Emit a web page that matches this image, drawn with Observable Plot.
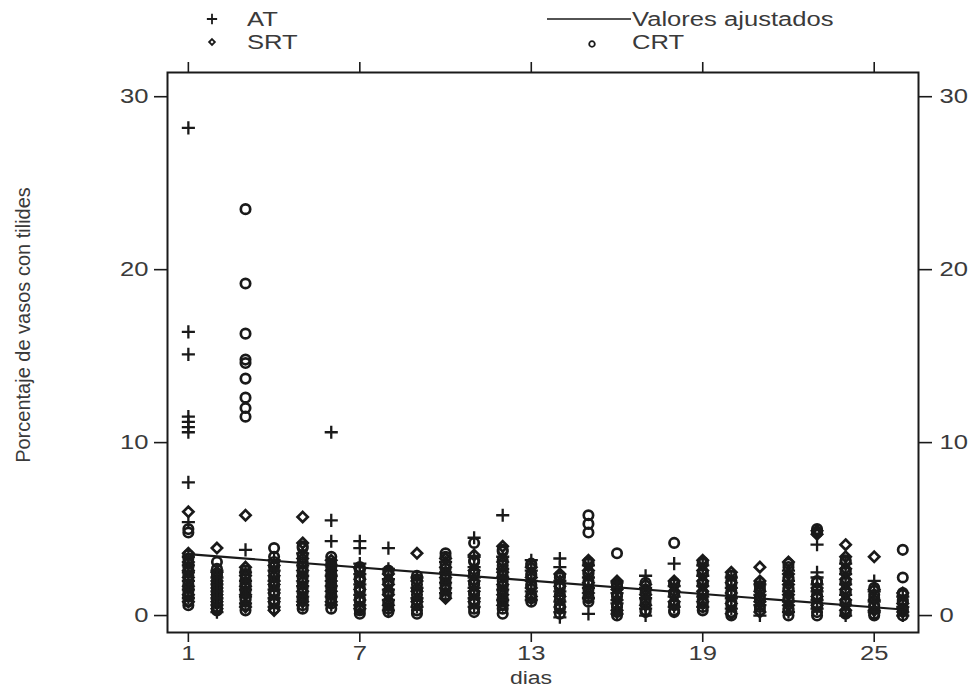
<!DOCTYPE html>
<html><head><meta charset="utf-8">
<script src="https://cdn.jsdelivr.net/npm/d3@7"></script>
<script src="https://cdn.jsdelivr.net/npm/@observablehq/plot@0.6"></script>
<style>
body{margin:0;background:#fff}
svg{display:block}
</style>
</head><body><div id="chart"></div>
<script>
const days = [1,2,3,4,5,6,7,8,9,10,11,12,13,14,15,16,17,18,19,20,21,22,23,24,25,26];

const atValues = [
  [28.2,16.4,15.1,11.5,11.2,10.9,10.6,7.7,5.4,3.4,2.9,2.5,2.0,1.5,1.0],
  [2.6,2.2,1.8,1.4,1.0,0.6,0.2],
  [3.8,2.5,2.0,1.5,1.1,0.7],
  [3.2,2.6,2.0,1.5,1.0,0.5],
  [3.6,2.9,2.3,1.7,1.1,0.6],
  [10.6,5.5,4.3,2.9,2.3,1.7,1.1,0.6],
  [4.3,3.9,3.0,2.4,1.8,1.2,0.6],
  [3.9,2.7,2.1,1.5,0.9,0.3],
  [2.2,1.6,1.0,0.5],
  [3.1,2.5,1.9,1.3],
  [4.5,3.4,2.8,2.2,1.6,1.0,0.5],
  [5.8,3.4,2.7,2.2,1.5,0.9],
  [3.2,2.6,2.0,1.4,0.9],
  [3.3,2.8,2.0,1.4,0.8,0.2,-0.1],
  [2.9,2.2,1.6,1.0,0.1],
  [1.9,1.3,0.7,0.1],
  [2.3,1.6,1.0,0.4,0.0],
  [3.0,1.7,1.1,0.5],
  [2.9,2.3,1.7,1.1,0.5],
  [2.2,1.6,1.0,0.4],
  [1.8,1.2,0.6,0.0],
  [2.6,2.0,1.4,0.8,0.2],
  [4.1,2.5,2.2,1.8,1.4,0.9,0.4],
  [3.0,2.4,1.8,1.2,0.6,0.0],
  [2.0,1.4,0.8,0.2],
  [1.1,0.5,0.0]
];

const srtValues = [
  [6.0,3.6,3.1,2.6,2.2,1.7,1.2,0.8],
  [3.9,2.5,2.0,1.6,1.2,0.8,0.4],
  [5.8,2.8,2.3,1.7,1.2,0.5],
  [2.9,2.3,1.8,1.3,0.8,0.3],
  [5.7,4.2,3.3,2.6,2.0,1.4,0.8],
  [3.2,2.6,2.0,1.4,0.8],
  [2.7,2.1,1.5,0.9,0.4],
  [2.4,1.8,1.2,0.6],
  [3.6,2.0,1.4,0.8],
  [3.3,2.8,2.2,1.6,1.0],
  [3.5,2.6,2.0,1.4,0.8],
  [4.0,3.1,2.5,1.8,1.2,0.6],
  [2.8,2.2,1.6,1.1],
  [2.4,1.7,1.1,0.5],
  [3.2,2.6,1.9,1.3],
  [2.0,1.5,0.9,0.3],
  [1.8,1.2,0.6],
  [2.0,1.4,0.8],
  [3.2,2.6,2.0,1.4,0.8],
  [2.5,1.9,1.3,0.7,0.1],
  [2.8,2.0,1.4,0.8,0.2],
  [3.1,2.4,1.8,1.2,0.6],
  [4.9,4.7,1.6,1.1,0.6],
  [4.1,3.4,2.7,2.1,1.5,0.9,0.3],
  [3.4,1.5,0.9,0.3],
  [1.3,0.7,0.2]
];

const crtValues = [
  [5.0,4.8,3.5,3.3,3.0,2.8,2.5,2.3,2.0,1.8,1.6,1.4,1.2,1.1,0.8,0.6],
  [3.1,2.7,2.4,2.3,2.0,1.9,1.7,1.5,1.3,1.1,0.9,0.7,0.5,0.3],
  [23.5,19.2,16.3,14.8,14.6,13.7,12.6,12.0,11.5,2.6,2.4,2.1,1.9,1.8,1.6,1.4,1.0,0.9,0.6,0.3],
  [3.9,3.4,3.1,2.8,2.5,2.2,2.0,1.7,1.4,1.2,0.9,0.7,0.4],
  [3.9,4.0,3.5,3.1,2.8,2.5,2.2,1.9,1.6,1.3,1.0,0.9,0.6,0.4],
  [3.4,3.0,2.8,2.4,2.2,1.8,1.6,1.2,1.0,0.7,0.4],
  [2.8,2.6,2.2,2.0,1.6,1.4,1.0,0.8,0.5,0.3,0.1],
  [2.6,2.5,2.0,1.9,1.4,1.3,0.8,0.7,0.4,0.2],
  [2.3,2.1,1.8,1.5,1.2,0.9,0.6,0.3,0.1],
  [3.6,3.4,3.0,2.7,2.4,2.1,1.8,1.5,1.2,1.1],
  [4.2,3.2,3.1,2.5,2.4,1.9,1.8,1.3,1.2,0.9,0.7,0.4,0.2],
  [3.8,3.7,3.2,2.9,2.6,2.3,2.0,1.7,1.4,1.0,0.8,0.4,0.1],
  [3.0,2.9,2.4,2.3,1.8,1.7,1.2,1.0,0.8],
  [2.3,2.2,1.8,1.6,1.2,0.9,0.6,0.4,0.1],
  [5.8,5.3,4.8,3.1,3.0,2.5,2.4,2.0,1.8,1.5,1.1,1.0,0.8],
  [3.6,1.8,1.7,1.2,1.1,0.6,0.5,0.2,0.0],
  [1.9,1.5,1.3,0.9,0.7,0.3,0.2],
  [4.2,1.9,1.8,1.3,1.2,0.7,0.6,0.3,0.2],
  [3.1,3.0,2.5,2.4,1.9,1.8,1.3,1.2,0.9,0.7,0.5,0.3],
  [2.3,2.0,1.8,1.4,1.2,0.8,0.6,0.2,0.0],
  [1.9,1.7,1.5,1.1,0.9,0.5,0.3],
  [3.0,2.8,2.2,2.1,1.6,1.5,1.0,0.9,0.4,0.3,0.0],
  [5.0,4.8,2.0,1.9,1.5,1.2,1.0,0.7,0.5,0.2,0.0],
  [3.2,3.1,2.6,2.5,2.0,1.9,1.4,1.3,0.8,0.7,0.2,0.1],
  [1.6,1.2,1.0,0.6,0.5,0.1,0.0],
  [3.8,2.2,1.3,1.2,0.9,0.8,0.4,0.3,0.0]
];

const fitDays = [1, 26];
const fitValues = [3.55, 0.35];

const xTicks = [1, 7, 13, 19, 25];
const yTicks = [0, 10, 20, 30];
const xLabel = "dias";
const yLabel = "Porcentaje de vasos con tilides";
const seriesNames = ["AT", "SRT", "Valores ajustados", "CRT"];

function rows(vals) {
  return days.flatMap((d, i) => vals[i].map(v => ({day: d, value: v})));
}
const atRows = rows(atValues);
const srtRows = rows(srtValues);
const crtRows = rows(crtValues);
const fitRows = fitDays.map((d, i) => ({day: d, value: fitValues[i]}));

const ink = "#1a1a1a";
const textColor = "#3a3a3a";
const font = "'Liberation Sans', Arial, sans-serif";
const stretch = 1.28;

const chart = Plot.plot({
  width: 976,
  height: 691,
  marginLeft: 167,
  marginRight: 58,
  marginTop: 72,
  marginBottom: 59,
  x: {domain: [0.27, 26.55]},
  y: {domain: [-0.98, 31.4]},
  style: {fontFamily: font, fontSize: "20px", color: textColor, background: "#fff", overflow: "visible"},
  marks: [
    Plot.frame({stroke: ink, strokeWidth: 2}),
    Plot.axisX({anchor: "bottom", ticks: xTicks, tickSize: 10, tickPadding: 3, label: null, stroke: ink, fill: textColor, strokeWidth: 1.6}),
    Plot.axisX({anchor: "top", ticks: xTicks, tickSize: 11, tickFormat: () => "", label: null, stroke: ink, strokeWidth: 1.6}),
    Plot.axisY({anchor: "left", ticks: yTicks, tickSize: 13, tickPadding: 6, label: null, stroke: ink, fill: textColor, strokeWidth: 1.6}),
    Plot.axisY({anchor: "right", ticks: yTicks, tickSize: 13, tickPadding: 8, label: null, stroke: ink, fill: textColor, strokeWidth: 1.6}),
    Plot.dot(srtRows, {x: "day", y: "value", symbol: "diamond2", r: 4.6, stroke: ink, strokeWidth: 2.7, fill: "none"}),
    Plot.dot(crtRows, {x: "day", y: "value", symbol: "circle", r: 4.7, stroke: ink, strokeWidth: 2.7, fill: "none"}),
    Plot.dot(atRows, {x: "day", y: "value", symbol: "plus", r: 4.3, stroke: ink, strokeWidth: 2.3}),
    Plot.line(fitRows, {x: "day", y: "value", stroke: ink, strokeWidth: 2.2})
  ]
});

document.getElementById("chart").appendChild(chart);

const svg = d3.select(chart);

// widen tick label glyphs horizontally, as in the scanned original
svg.selectAll("text").each(function() {
  const t = this.getAttribute("transform") || "";
  const xa = this.getAttribute("x");
  let extra = "";
  if (xa !== null && /^-?[\d.]+$/.test(xa)) {
    extra = ` translate(${xa},0)`;
    this.removeAttribute("x");
  }
  this.setAttribute("transform", `${t}${extra} scale(${stretch},1)`);
});

svg.append("text")
  .attr("transform", `translate(531,684) scale(${stretch},1)`)
  .attr("text-anchor", "middle")
  .attr("font-family", font).attr("font-size", 18).attr("fill", textColor)
  .text(xLabel);
svg.append("text")
  .attr("transform", `translate(30,325) rotate(-90)`)
  .attr("text-anchor", "middle")
  .attr("font-family", font).attr("font-size", 20).attr("fill", textColor)
  .text(yLabel);

const lg = svg.append("g").attr("font-family", font).attr("font-size", 20).attr("fill", textColor).attr("text-anchor", "start");
const sym = (type, r) => d3.symbol(type, Math.PI * r * r)();
const addText = (x, y, s) => lg.append("text")
  .attr("transform", `translate(${x},${y}) scale(${stretch},1)`)
  .attr("dy", "0.35em").attr("text-anchor", "start").text(s);
lg.append("path").attr("d", sym(d3.symbolPlus, 3.4)).attr("transform", "translate(212,19)")
  .attr("stroke", ink).attr("stroke-width", 1.8).attr("fill", "none");
addText(247, 19, seriesNames[0]);
lg.append("path").attr("d", sym(d3.symbolDiamond2, 2.6)).attr("transform", "translate(212,42)")
  .attr("stroke", ink).attr("stroke-width", 1.8).attr("fill", "none");
addText(247, 42, seriesNames[1]);
lg.append("line").attr("x1", 547).attr("x2", 631).attr("y1", 19).attr("y2", 19)
  .attr("stroke", ink).attr("stroke-width", 1.6);
addText(632, 19, seriesNames[2]);
lg.append("path").attr("d", sym(d3.symbolCircle, 2.8)).attr("transform", "translate(592,44)")
  .attr("stroke", ink).attr("stroke-width", 1.8).attr("fill", "none");
addText(632, 42, seriesNames[3]);
</script>
</body></html>
